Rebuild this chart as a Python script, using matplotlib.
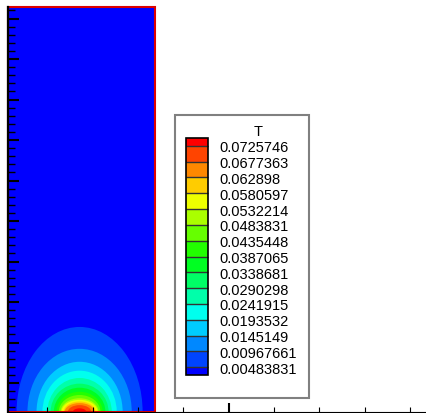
import numpy as np
import matplotlib
matplotlib.use("Agg")
import matplotlib.pyplot as plt
from matplotlib.patches import Rectangle, Ellipse
from matplotlib.colors import ListedColormap, BoundaryNorm
from matplotlib.cm import ScalarMappable
from matplotlib.ticker import MultipleLocator

plt.rcParams['font.family'] = ['Liberation Sans', 'DejaVu Sans']

# contour levels of T and the band colours (low -> high)
levels = [0.00483831, 0.00967661, 0.0145149, 0.0193532, 0.0241915,
          0.0290298, 0.0338681, 0.0387065, 0.0435448, 0.0483831,
          0.0532214, 0.0580597, 0.062898, 0.0677363, 0.0725746]
level_labels = ['0.00483831', '0.00967661', '0.0145149', '0.0193532',
                '0.0241915', '0.0290298', '0.0338681', '0.0387065',
                '0.0435448', '0.0483831', '0.0532214', '0.0580597',
                '0.062898', '0.0677363', '0.0725746']
band_colors = ['#0000FF', '#0044FF', '#0088FF', '#00CCFF', '#00FFEE',
               '#00FFAA', '#00FF66', '#00FF22', '#22FF00', '#66FF00',
               '#AAFF00', '#EEFF00', '#FFCC00', '#FF8800', '#FF4400',
               '#FF0000']

# domain and heat source (bottom wall)
dom_w = 0.0326
dom_h = 0.5
src_x = 0.0159
# half-widths / half-heights of each isotherm around the source
iso_a = [0.0139, 0.0115, 0.0095, 0.0082, 0.0071, 0.0064, 0.0057, 0.0051,
         0.0046, 0.0042, 0.0040, 0.0035, 0.0033, 0.0026, 0.0015]
iso_b = [0.105, 0.078, 0.062, 0.051, 0.042, 0.035, 0.030, 0.025,
         0.021, 0.017, 0.015, 0.013, 0.011, 0.0085, 0.0045]

W, H = 426, 414
fig = plt.figure(figsize=(W / 100, H / 100), dpi=100)
ax = fig.add_axes([7.5 / W, 1 / H, (W - 7.5) / W, 405 / H])
ax.set_xlim(0, (W - 7.5) * 0.01 / 45.34)
ax.set_ylim(0, dom_h)

ax.add_patch(Rectangle((0, 0), dom_w, dom_h, facecolor=band_colors[0],
                       edgecolor='none', zorder=1))
for k in range(len(levels)):
    ax.add_patch(Ellipse((src_x, 0), 2 * iso_a[k], 2 * iso_b[k],
                         facecolor=band_colors[k + 1], edgecolor='none',
                         zorder=1.1 + k * 0.01))
ax.add_patch(Rectangle((0, 0), dom_w, dom_h, fill=False, edgecolor='#dd0000',
                       linewidth=1.5, zorder=2, clip_on=False))

for s in ['top', 'right']:
    ax.spines[s].set_visible(False)
ax.spines['left'].set_linewidth(1.6)
ax.spines['bottom'].set_linewidth(0.8)
ax.set_axisbelow(False)

ax.xaxis.set_major_locator(MultipleLocator(0.05, offset=0.0488))
ax.xaxis.set_minor_locator(MultipleLocator(0.01, offset=0.0088))
ax.yaxis.set_major_locator(MultipleLocator(0.05, offset=0.0358))
ax.yaxis.set_minor_locator(MultipleLocator(0.01, offset=0.0058))
ax.tick_params(which='both', direction='in', labelbottom=False, labelleft=False)
ax.tick_params(axis='x', which='major', length=6.5, width=1.5)
ax.tick_params(axis='x', which='minor', length=3.3, width=0.8)
ax.tick_params(axis='y', which='major', length=8, width=1.5)
ax.tick_params(axis='y', which='minor', length=4.7, width=1.0)

# legend frame
fig.add_artist(Rectangle((175 / W, (H - 399) / H), 134 / W, 283 / H,
                         transform=fig.transFigure, facecolor='white',
                         edgecolor='#808080', linewidth=1.5, zorder=0.5))
fig.text(258 / W, 1 - 132 / H, 'T', ha='center', va='center', fontsize=10.5)

cmap = ListedColormap(band_colors[1:-1])
cmap.set_under(band_colors[0])
cmap.set_over(band_colors[-1])
norm = BoundaryNorm(levels, cmap.N)
cax = fig.add_axes([186 / W, (H - 376) / H, 22 / W, 237 / H], zorder=1)
cb = fig.colorbar(ScalarMappable(norm=norm, cmap=cmap), cax=cax,
                  extend='both', extendrect=True, extendfrac=0.0357,
                  drawedges=True, ticks=levels)
cb.ax.set_yticklabels(level_labels, fontsize=10.5)
cb.ax.tick_params(length=0, pad=8)
cb.outline.set_linewidth(1.2)
cb.dividers.set_color('#333333')
cb.dividers.set_linewidth(1.0)

fig.savefig('out.png', dpi=100)
